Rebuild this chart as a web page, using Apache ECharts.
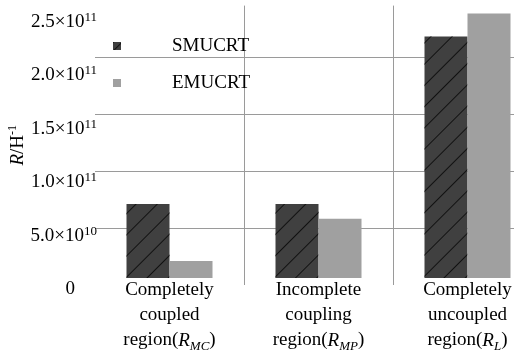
<!DOCTYPE html>
<html>
<head>
<meta charset="utf-8">
<script src="https://cdn.jsdelivr.net/npm/echarts@6/dist/echarts.min.js"></script>
<style>
  html, body { margin: 0; padding: 0; background: #fff; }
  #chart { width: 514px; height: 354px; }
</style>
</head>
<body>
<div id="chart"></div>
<script>
// Magnetic reluctance of the three coupling regions, SMUCRT vs EMUCRT
const categories = ['Completely\ncoupled\nregion', 'Incomplete\ncoupling\nregion', 'Completely\nuncoupled\nregion'];
const regionSubscripts = ['MC', 'MP', 'L'];
const seriesNames = ['SMUCRT', 'EMUCRT'];
const smucrtValues = [7.1e10, 7.1e10, 2.18e11];
const emucrtValues = [2.1e10, 5.8e10, 2.38e11];
const tickValues = [0, 5e10, 1e11, 1.5e11, 2e11, 2.5e11];
const tickMantissas = ['0', '5.0', '1.0', '1.5', '2.0', '2.5'];
const tickExponents = ['', '10', '11', '11', '11', '11'];

const SERIF = '"Liberation Serif", "Times New Roman", serif';
const GRID_GREY = '#9a9a9a';

const hatch = {
  symbol: 'rect',
  symbolSize: 1,
  color: '#111',
  dashArrayX: [1, 0],
  dashArrayY: [1, 14],
  rotation: -Math.PI / 4
};

const chart = echarts.init(document.getElementById('chart'));

function categoryLabel(value, index) {
  const lines = value.split('\n');
  const last = lines.pop();
  const head = lines.map(l => '{n|' + l + '}').join('\n');
  return head + '\n{n|' + last + '(}{i|R}{s|' + regionSubscripts[index] + '}{n|)}';
}

function tickLabel(value) {
  const k = tickValues.indexOf(value);
  if (k < 0) return '';
  if (!tickExponents[k]) return '{z|' + tickMantissas[k] + '}';
  return '{m|' + tickMantissas[k] + '×10}{e|' + tickExponents[k] + '}';
}

const option = {
  backgroundColor: '#fff',
  animation: false,
  grid: [
    // plotting area (runs past the right edge)
    { left: 95, width: 447, top: 5.6, bottom: 69, outerBoundsMode: 'none', containLabel: false },
    // tick-label column
    { left: 100, width: 1, top: 22, bottom: 65, outerBoundsMode: 'none', containLabel: false }
  ],
  legend: {
    data: [
      { name: seriesNames[0], itemStyle: { color: '#404040', decal: { ...hatch, dashArrayY: [1, 5] } } },
      { name: seriesNames[1] }
    ],
    orient: 'vertical',
    left: 108,
    top: 31,
    itemWidth: 8,
    itemHeight: 8,
    itemGap: 17,
    icon: 'rect',
    textStyle: { fontFamily: SERIF, fontSize: 19, color: '#000', lineHeight: 20, padding: [0, 0, 0, 46] }
  },
  xAxis: [
    {
      type: 'category',
      gridIndex: 0,
      data: categories,
      z: 3,
      axisLine: { show: false },
      axisTick: { show: false },
      splitLine: { show: true, showMinLine: false, lineStyle: { color: GRID_GREY, width: 1 } },
      axisLabel: {
        interval: 0,
        margin: -7,
        backgroundColor: '#fff',
        padding: [0, 4, 0, 4],
        formatter: categoryLabel,
        rich: {
          n: { fontFamily: SERIF, fontSize: 19, lineHeight: 25, color: '#000' },
          i: { fontFamily: SERIF, fontSize: 19, lineHeight: 25, color: '#000', fontStyle: 'italic' },
          s: { fontFamily: SERIF, fontSize: 13, lineHeight: 16, color: '#000', fontStyle: 'italic', verticalAlign: 'bottom' }
        }
      }
    },
    { type: 'value', gridIndex: 1, show: false }
  ],
  yAxis: [
    {
      type: 'value',
      gridIndex: 0,
      min: 0,
      max: 2.45e11,
      interval: 5e10,
      axisLine: { show: false },
      axisTick: { show: false },
      axisLabel: { show: false },
      splitLine: { show: true, showMinLine: false, showMaxLine: false, lineStyle: { color: GRID_GREY, width: 1 } },
      name: '{r|R}{n|/H}{e|-1}',
      nameLocation: 'middle',
      nameGap: 66,
      nameRotate: 90,
      nameTextStyle: {
        rich: {
          r: { fontFamily: SERIF, fontSize: 19, lineHeight: 22, color: '#000', fontStyle: 'italic' },
          n: { fontFamily: SERIF, fontSize: 19, lineHeight: 22, color: '#000' },
          e: { fontFamily: SERIF, fontSize: 12, lineHeight: 12, color: '#000', verticalAlign: 'top' }
        }
      }
    },
    {
      type: 'value',
      gridIndex: 1,
      min: 0,
      max: 2.5e11,
      interval: 5e10,
      axisLine: { show: false },
      axisTick: { show: false },
      splitLine: { show: false },
      axisLabel: {
        margin: 3,
        align: 'right',
        formatter: tickLabel,
        rich: {
          m: { fontFamily: SERIF, fontSize: 19, lineHeight: 22, color: '#000' },
          e: { fontFamily: SERIF, fontSize: 13, lineHeight: 12, color: '#000', verticalAlign: 'top' },
          z: { fontFamily: SERIF, fontSize: 19, lineHeight: 22, color: '#000', padding: [0, 22, 0, 0] }
        }
      }
    }
  ],
  series: [
    {
      name: seriesNames[0],
      type: 'bar',
      xAxisIndex: 0,
      yAxisIndex: 0,
      data: smucrtValues,
      barWidth: 43,
      barGap: '0%',
      itemStyle: { color: '#404040', decal: hatch }
    },
    {
      name: seriesNames[1],
      type: 'bar',
      xAxisIndex: 0,
      yAxisIndex: 0,
      data: emucrtValues,
      barWidth: 43,
      barGap: '0%',
      itemStyle: { color: '#a0a0a0' }
    }
  ]
};

chart.setOption(option);
</script>
</body>
</html>
